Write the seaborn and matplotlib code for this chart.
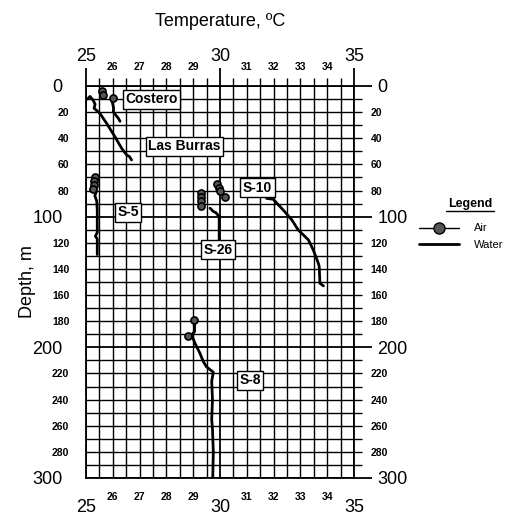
import numpy as np
import pandas as pd
import matplotlib
matplotlib.use("Agg")
import matplotlib.pyplot as plt
from matplotlib.lines import Line2D
import seaborn as sns

# ---------------- data ----------------
costero_water_t = [25.96, 26.0, 26.03, 26.02, 26.1, 26.2, 26.27]
costero_water_d = [10.7, 14.0, 17.0, 19.6, 22.0, 24.5, 27.0]
costero_air_t = [26.0]
costero_air_d = [9.0]

burras_water_t = [25.05, 25.15, 25.27, 25.34, 25.3, 25.52, 25.77, 26.08, 26.33, 26.52, 26.62, 26.7]
burras_water_d = [10.0, 8.0, 11.0, 14.0, 17.0, 21.0, 28.6, 38.8, 47.7, 52.8, 54.0, 56.6]
burras_air_t = [25.6, 25.62]
burras_air_d = [4.0, 7.0]

s5_water_t = [25.3, 25.38, 25.33, 25.4, 25.42, 25.42, 25.35, 25.42, 25.42]
s5_water_d = [78.0, 81.0, 84.0, 88.0, 95.0, 112.0, 115.0, 117.0, 129.0]
s5_air_t = [25.35, 25.28, 25.3, 25.27]
s5_air_d = [70.0, 73.0, 76.0, 79.0]

s10_water_t = [31.74, 31.99, 32.12, 32.36, 32.68, 32.92, 33.3, 33.48, 33.67, 33.7, 33.73, 33.86]
s10_water_d = [86.0, 86.7, 89.7, 94.9, 102.5, 110.2, 117.8, 125.5, 135.7, 138.0, 151.0, 153.0]
s10_air_t = [29.88, 29.95, 30.0, 30.19]
s10_air_d = [75.0, 78.0, 80.0, 85.0]

s26_water_t = [29.63, 29.75, 29.85, 29.97, 29.97]
s26_water_d = [93.5, 96.0, 97.0, 100.0, 118.0]
s26_air_t = [29.3, 29.3, 29.3, 29.3]
s26_air_d = [82.0, 85.0, 88.0, 92.0]

s8_water_t = [29.05, 29.05, 28.94, 29.07, 29.25, 29.38, 29.5, 29.75, 29.69, 29.72, 29.69, 29.72, 29.75, 29.73]
s8_water_d = [179.0, 188.0, 190.5, 197.0, 204.5, 211.0, 215.0, 219.0, 226.0, 240.0, 255.0, 263.0, 280.0, 300.0]
s8_air_t = [29.04, 28.82]
s8_air_d = [179.0, 191.0]

station_names = ["Costero", "Las Burras", "S-5", "S-10", "S-26", "S-8"]
station_label_t = [27.44, 28.68, 26.57, 31.4, 29.93, 31.12]
station_label_d = [10.3, 46.3, 96.8, 77.7, 125.5, 225.0]

x_major = [25, 30, 35]
y_major = [0, 100, 200, 300]

# ---------------- figure ----------------
sns.set_theme(style="white")
plt.rcParams["font.family"] = ["Liberation Sans", "DejaVu Sans"]
plt.rcParams["text.color"] = "black"

fig = plt.figure(figsize=(5.07, 5.18), dpi=100)
ax = fig.add_axes([86 / 507, 1 - 478 / 518, 268 / 507, 392 / 518])

water = [
    (costero_water_t, costero_water_d),
    (burras_water_t, burras_water_d),
    (s5_water_t, s5_water_d),
    (s10_water_t, s10_water_d),
    (s26_water_t, s26_water_d),
    (s8_water_t, s8_water_d),
]
air = [
    (costero_air_t, costero_air_d),
    (burras_air_t, burras_air_d),
    (s5_air_t, s5_air_d),
    (s10_air_t, s10_air_d),
    (s26_air_t, s26_air_d),
    (s8_air_t, s8_air_d),
]

for t, d in water:
    df = pd.DataFrame({"t": t, "d": d})
    sns.lineplot(data=df, x="t", y="d", sort=False, estimator=None,
                 color="black", lw=2.0, ax=ax, zorder=4)

for t, d in air:
    df = pd.DataFrame({"t": t, "d": d})
    sns.scatterplot(data=df, x="t", y="d", color="#555555", edgecolor="black",
                    linewidth=1.2, s=26, ax=ax, zorder=5)

for name, t, d in zip(station_names, station_label_t, station_label_d):
    ax.text(t, d, name, ha="center", va="center", fontsize=10, fontweight="bold",
            color="black", zorder=6,
            bbox=dict(boxstyle="square,pad=0.18", fc="white", ec="black", lw=1.0))

ax.set_xlim(25, 35)
ax.set_ylim(300, 0)

# ticks
x_minor = [v for v in np.arange(25, 35.01, 0.5) if v not in x_major]
x_minor_labels = [str(int(v)) if float(v).is_integer() else "" for v in x_minor]
y_minor = [v for v in range(0, 301, 10) if v not in y_major]
y_minor_labels = [str(v) if v % 20 == 0 else "" for v in y_minor]

ax.set_xticks(x_major, labels=[str(v) for v in x_major])
ax.set_xticks(x_minor, labels=x_minor_labels, minor=True)
ax.set_yticks(y_major, labels=[str(v) for v in y_major])
ax.set_yticks(y_minor, labels=y_minor_labels, minor=True)

ax.tick_params(which="both", top=True, right=True, labeltop=True, labelright=True,
               direction="out", color="black", labelcolor="black")
ax.tick_params(which="major", length=13, width=1.3, labelsize=13)
ax.tick_params(which="minor", length=6, width=1.0, labelsize=7.5)
ax.tick_params(axis="x", which="major", pad=2)
ax.tick_params(axis="x", which="minor", pad=4)
ax.tick_params(axis="y", which="major", pad=4)
ax.tick_params(axis="y", which="minor", pad=6)
for lab in ax.get_xticklabels(minor=True) + ax.get_yticklabels(minor=True):
    lab.set_fontweight("bold")

ax.grid(which="major", color="black", lw=1.3)
ax.grid(which="minor", color="black", lw=1.0)
ax.set_axisbelow(True)
for s in ax.spines.values():
    s.set_color("black")
    s.set_linewidth(1.3)

ax.set_xlabel("")
ax.set_ylabel("")

fig.text(220 / 507, 1 - 22 / 518, "Temperature, ºC", ha="center", va="center",
         fontsize=13, color="black")
fig.text(27 / 507, 1 - 282 / 518, "Depth, m", ha="center", va="center", rotation=90,
         fontsize=13, color="black")

# legend
fig.text(470 / 507, 1 - 204 / 518, "Legend", ha="center", va="center", fontsize=9,
         fontweight="bold", color="black")
fig.add_artist(Line2D([446 / 507, 494 / 507], [1 - 211 / 518, 1 - 211 / 518],
                      transform=fig.transFigure, color="black", lw=1))
handles = [
    Line2D([], [], color="black", lw=1, marker="o", mfc="#555555", mec="black", ms=8),
    Line2D([], [], color="black", lw=2),
]
leg = ax.legend(handles, ["Air", "Water"], loc="upper left",
                bbox_to_anchor=(415 / 507, 1 - 219 / 518), bbox_transform=fig.transFigure,
                frameon=False, fontsize=8, handlelength=3.6, labelspacing=0.6,
                handletextpad=1.3, borderaxespad=0)
for txt in leg.get_texts():
    txt.set_color("black")

fig.savefig("out.png", dpi=100)
